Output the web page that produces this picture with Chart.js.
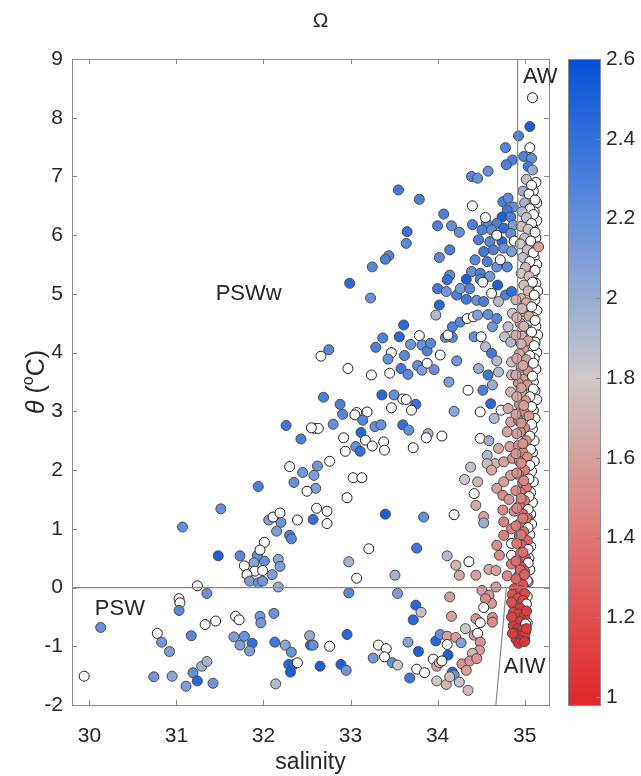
<!DOCTYPE html>
<html><head><meta charset="utf-8">
<script src="https://cdn.jsdelivr.net/npm/chart.js@4/dist/chart.umd.min.js"></script>
<style>
html,body{margin:0;padding:0;background:#fff;}
#wrap{position:relative;width:641px;height:776px;overflow:hidden;}
#main{position:absolute;left:0;top:0;}
#cbar{position:absolute;left:556px;top:0;}
</style></head><body>
<div id="wrap"><canvas id="main" width="641" height="776"></canvas><canvas id="cbar" width="85" height="776"></canvas></div>
<script>
// ---------- axis / tick data ----------
const xTicks = [30, 31, 32, 33, 34, 35];
const yTicks = [-2, -1, 0, 1, 2, 3, 4, 5, 6, 7, 8, 9];
const cbTicks = [1, 1.2, 1.4, 1.6, 1.8, 2, 2.2, 2.4, 2.6];
const cbTickLabels = ['1', '1.2', '1.4', '1.6', '1.8', '2', '2.2', '2.4', '2.6'];
const cmapValues = [1.0, 1.4, 1.8, 2.2, 2.6];
const cmapColors = ['#e2292c', '#df7775', '#cdc8c8', '#6490dc', '#0450d8'];

// ---------- water-mass boundary lines ----------
const zeroLineS = [29.8, 35.28], zeroLineT = [0, 0];
const awLineS = [34.92, 34.92], awLineT = [0, 9];
const aiwLineS = [34.79, 34.67], aiwLineT = [0, -2];

// ---------- region labels ----------
const regionNames = ['AW', 'PSWw', 'PSW', 'AIW'];
const regionS = [35.18, 31.83, 30.35, 35.0];
const regionT = [8.70, 5.0, -0.36, -1.35];

// ---------- observations (salinity, theta, Omega; null = no Omega) ----------
const warmSal = [35.09,35.06,34.93,35.06,34.78,34.86,34.79,34.99,35.08,34.58,
 34.39,34.46,35.04,35.09,33.55,33.79,34.40,34.07,34.00,34.16,
 34.25,34.40,33.65,33.64,33.44,33.40,33.25,34.14,34.02,32.99,
 34.14,34.75,34.81,34.87,34.80,34.74,34.84,34.68,34.56,34.51,
 34.62,34.76,34.87,34.47,34.60,34.74,34.84,34.53,34.64,34.76,
 34.85,34.43,34.57,34.68,34.80,34.39,34.49,34.60,34.68,34.72,
 34.55,34.88];
const warmTheta = [8.34,7.85,7.69,7.49,7.49,7.28,7.20,7.34,7.31,7.09,
 7.00,6.97,7.17,7.11,6.77,6.61,6.50,6.36,6.16,6.16,
 6.05,6.18,6.06,5.86,5.65,5.59,5.46,5.75,5.62,5.18,
 5.32,6.57,6.63,6.48,6.43,6.31,6.31,6.20,6.20,6.09,
 6.09,6.12,6.17,5.92,5.89,5.89,6.03,5.72,5.75,5.78,
 5.72,5.58,5.55,5.46,5.46,5.38,5.35,5.30,6.00,5.58,
 6.30,5.90];
const warmOmega = [null,2.5,2.3,null,2.25,2.3,2.3,2.3,2.2,2.2,
 2.25,2.2,2.35,2.0,2.35,2.3,null,2.3,2.3,2.2,
 2.2,2.3,2.4,2.25,2.25,2.3,2.25,2.3,2.25,2.45,
 2.25,2.3,2.25,2.2,2.35,2.5,2.3,2.3,2.25,2.3,
 2.2,2.4,2.1,2.3,2.25,2.45,2.2,2.35,2.3,2.2,
 2.1,2.25,2.3,2.2,2.25,2.2,2.3,2.15,null,null,
 null,null];

const midSal = [33.23,33.61,33.56,33.37,33.29,33.79,33.69,33.82,33.88,33.92,
 33.47,33.43,33.62,33.58,33.66,33.77,33.82,33.88,33.96,34.03,
 32.75,32.66,32.97,33.24,33.45,34.13,34.22,34.09,34.17,34.12,
 34.02,33.98,34.00,34.11,34.22,34.33,34.10,34.26,34.37,34.33,
 34.49,34.45,34.53,34.69,34.78,34.85,34.62,34.52,34.70,34.17,
 34.26,34.34,34.41,34.46,34.58,34.68,34.63,34.42,34.50,34.55,
 34.62,34.47,34.58,34.70,34.68,34.77,34.84,34.81,34.86,34.63,
 34.52,34.61,34.35,34.49,34.73,34.65,34.19,32.69,32.88,32.91,
 33.07,33.05,33.19,33.14,32.80,32.59,32.63,33.36,33.50,33.60,
 33.64,33.75,33.47,33.70,33.28,33.35,33.60,33.67,33.12,32.92,
 33.17,33.38,33.25,33.39,33.06,33.11,32.94,33.89,33.87,34.05,
 33.72,32.62,32.58,32.76,33.03,33.13,32.60,34.31,34.49,34.59,
 34.57,34.66,34.57,34.62,34.76,34.70,34.80,34.84,34.81,34.84,
 34.85,34.85,34.76,34.68,34.84,34.38,34.46,34.42];
const midTheta = [4.93,4.47,4.27,4.25,4.09,4.29,4.14,4.13,4.03,4.16,
 4.00,3.89,3.95,3.73,3.63,3.78,3.70,3.82,3.71,3.96,
 4.05,3.94,3.73,3.62,3.65,3.50,3.86,4.26,4.26,4.30,
 4.81,4.64,5.09,5.24,4.98,4.91,5.04,5.09,5.09,5.25,
 5.25,4.89,4.87,5.15,4.98,5.04,5.01,5.20,4.87,4.44,
 4.52,4.58,4.61,4.64,4.65,4.58,4.44,4.27,4.27,4.10,
 3.99,3.73,3.62,3.67,3.86,4.27,4.18,4.44,4.67,3.45,
 3.36,3.13,3.36,2.99,3.02,2.88,3.00,3.24,3.12,2.95,
 2.98,2.94,2.99,2.85,2.78,2.71,2.71,3.28,3.28,3.21,
 3.20,3.12,3.06,3.02,2.74,2.77,2.77,2.68,2.64,2.55,
 2.51,2.48,2.41,2.34,2.40,2.32,2.32,2.62,2.55,2.58,
 2.38,2.07,1.91,2.15,1.87,1.87,1.69,1.84,2.54,2.50,
 2.25,2.11,2.11,2.00,2.14,2.37,2.65,2.82,3.05,3.33,
 3.62,3.84,1.80,1.69,1.91,2.05,1.80,1.60];
const midOmega = [2.2,2.45,2.45,2.3,2.3,null,2.15,2.2,2.3,2.25,
 null,2.2,2.25,2.35,2.25,2.2,2.1,null,2.2,null,
 2.25,null,null,null,null,2.1,2.15,2.2,2.25,null,
 2.45,1.9,2.35,2.4,2.3,2.35,2.15,2.1,2.25,2.5,
 2.25,2.2,2.3,2.5,2.3,2.4,null,null,1.9,2.3,
 2.25,null,null,2.1,2.2,2.25,2.15,2.2,null,1.9,
 2.35,2.0,2.35,1.9,1.9,1.85,1.9,1.85,1.8,2.0,
 2.3,2.45,null,null,null,1.9,2.05,2.3,2.3,2.25,
 null,null,null,2.25,2.2,null,null,2.45,2.2,null,
 null,2.4,null,null,2.2,2.2,2.4,2.2,2.45,null,
 null,null,null,null,2.2,2.4,null,1.95,null,null,
 null,2.15,2.1,null,null,null,2.1,1.8,null,2.0,
 1.9,1.7,1.75,1.65,1.6,1.65,1.6,1.6,1.65,1.7,
 1.7,1.75,1.6,1.6,1.6,1.85,1.7,null];

const lowSal = [32.26,32.43,32.30,32.45,32.35,31.94,32.50,32.55,31.51,31.07,
 31.48,31.73,32.06,32.20,32.15,32.11,32.19,32.39,32.30,32.32,
 32.01,31.93,32.01,31.96,31.89,31.78,31.90,31.81,31.99,32.17,
 32.19,32.10,31.84,31.94,31.99,32.17,31.24,32.57,32.61,32.73,
 32.73,32.96,33.40,33.84,34.19,34.44,34.53,34.53,33.21,33.76,
 32.98,33.07,33.51,34.11,34.21,34.25,34.36,34.44,34.59,34.67,
 34.71,34.68,34.76,34.76,34.75,34.75,34.85,34.85,35.03,34.83,
 34.86,34.82,34.88,34.85,34.80,34.85];
const lowTheta = [2.76,2.53,2.06,1.96,1.79,1.72,1.64,2.72,1.34,1.03,
 0.54,0.54,1.15,1.11,0.96,1.20,1.27,1.15,0.89,0.83,
 0.45,0.55,0.77,0.64,0.42,0.37,0.28,0.22,0.29,0.48,
 0.36,0.22,0.11,0.08,0.11,0.01,0.03,1.16,1.35,1.30,
 1.09,1.53,1.25,1.20,1.24,1.40,1.21,1.10,0.66,0.67,
 0.44,0.16,0.21,0.54,0.38,0.21,0.44,0.21,0.31,0.29,
 0.55,0.72,0.89,1.12,1.32,1.57,0.75,0.55,1.20,2.40,
 2.20,1.50,1.30,1.00,0.20,0.40];
const lowOmega = [2.35,2.3,null,2.15,2.2,2.3,null,null,2.2,2.2,
 2.5,2.25,2.1,2.15,2.1,null,null,null,2.3,2.25,
 2.2,2.2,null,null,2.05,null,null,null,null,2.05,
 2.1,2.1,2.1,2.2,2.15,2.0,null,2.4,null,null,
 null,null,2.5,2.2,null,1.65,1.6,2.0,null,2.35,
 1.95,null,1.95,1.9,1.7,1.65,null,1.6,1.65,1.6,
 1.5,1.5,1.45,1.45,1.5,1.5,null,null,null,1.6,
 1.55,1.55,1.5,1.45,1.5,1.4];

const coldSal = [31.35,31.03,31.04,31.03,30.13,31.33,31.45,31.68,31.72,31.96,
 31.97,32.12,31.17,30.78,30.83,30.92,31.66,31.73,31.78,31.87,
 31.84,32.13,32.25,32.32,32.53,32.54,29.94,30.74,30.95,31.11,
 31.19,31.29,31.35,31.24,31.42,32.29,32.35,32.31,32.39,32.14,
 32.98,33.54,34.14,34.51,34.59,34.62,34.55,34.67,33.75,33.81,
 33.72,34.16,34.53,34.63,34.63,34.44,34.49,34.32,34.42,34.46,
 34.49,32.96,32.57,32.76,32.65,32.89,32.95,33.32,33.41,33.26,
 33.39,33.48,33.54,33.66,33.78,33.76,33.68,33.98,34.03,34.11,
 34.11,34.12,34.21,34.27,34.48,34.40,33.95,33.99,34.02,34.05,
 34.17,34.19,34.28,34.37,34.45,34.33,34.25,34.35,34.10,33.99,
 34.14,33.85];
const coldTheta = [-0.10,-0.19,-0.26,-0.39,-0.68,-0.63,-0.57,-0.49,-0.55,-0.49,
 -0.60,-0.44,-0.82,-0.78,-0.93,-1.09,-0.84,-0.98,-0.83,-0.95,
 -1.08,-0.93,-0.98,-1.10,-0.82,-0.98,-1.51,-1.52,-1.51,-1.68,
 -1.45,-1.34,-1.26,-1.59,-1.63,-1.31,-1.31,-1.44,-1.28,-1.64,
 -0.09,-0.10,-0.16,-0.05,-0.13,-0.27,-0.19,0.01,-0.30,-0.42,
 -0.55,-0.49,-0.34,-0.51,-0.59,-0.53,-0.60,-0.70,-0.81,-0.78,
 -0.93,-0.80,-0.98,-1.00,-1.34,-1.31,-1.41,-0.98,-1.04,-1.20,
 -1.18,-1.28,-1.32,-0.93,-1.09,-1.39,-1.54,-0.91,-0.80,-0.83,
 -0.97,-1.15,-0.85,-0.94,-1.07,-1.12,-1.22,-1.34,-1.28,-1.25,
 -1.44,-1.49,-1.30,-1.25,-1.21,-1.41,-1.61,-1.75,-1.65,-1.59,
 -1.52,-1.45];
const coldOmega = [2.2,null,null,2.25,2.2,null,null,null,null,2.15,
 2.15,2.2,2.25,null,2.15,2.1,2.1,2.1,2.2,2.4,
 2.1,2.35,2.05,2.2,2.0,2.4,null,2.15,2.05,2.1,
 2.2,1.95,1.95,2.45,2.15,2.45,2.45,2.5,null,1.9,
 2.25,2.1,1.6,1.6,1.55,1.55,1.5,1.6,2.45,1.85,
 2.45,1.6,null,1.5,1.5,1.55,null,1.8,1.6,null,
 1.55,2.45,2.2,null,2.5,2.5,2.15,null,null,2.15,
 null,2.2,1.8,2.05,2.5,null,2.35,2.45,2.2,1.6,
 null,2.5,1.6,2.1,1.6,1.7,null,1.6,1.7,null,
 2.45,2.2,1.55,1.55,1.55,1.6,1.85,1.75,1.7,1.8,
 1.75,null];

const awSal = [35.02,35.08,34.98,35.05,35.12,35.00,35.06,34.97,35.10,35.02,
 35.08,34.96,35.04,35.12,35.00,35.07,34.95,35.03,35.10,34.98,
 35.06,35.01,35.12,34.96,35.05,35.09,34.99,35.04,35.11,34.96,
 35.02,35.08,34.98,35.05,35.12,34.95,35.01,35.08,34.97,35.04,
 35.11,34.99,34.94,35.06,35.02,35.10,34.96,35.04,35.09,34.98,
 34.93,35.03,35.10,34.97,35.06,35.01,34.94,35.08,34.99,35.05,
 34.93,35.08,35.00,34.95,35.06,35.02,34.93,35.07,34.98,35.03,
 34.94,35.06,35.00,34.93,35.05,34.98,35.02,34.95,35.05,35.00,
 34.94,35.04,34.98,35.02,34.95,35.04,34.99,34.94,35.03,34.97,
 35.04,34.95,35.01,35.04,34.96,35.00,34.93,35.03,34.98,35.16];
const awTheta = [6.95,6.85,6.75,6.70,6.60,6.55,6.45,6.40,6.35,6.30,
 6.20,6.15,6.10,6.05,5.95,5.90,5.85,5.75,5.70,5.62,
 5.55,5.45,5.40,5.35,5.30,5.20,5.15,5.05,4.98,4.92,
 4.85,4.78,4.70,4.62,4.55,4.50,4.42,4.35,4.28,4.20,
 4.12,4.05,3.98,3.95,3.88,3.82,3.75,3.68,3.60,3.55,
 3.48,3.45,3.38,3.32,3.25,3.18,3.12,3.08,3.00,2.92,
 2.85,2.78,2.72,2.65,2.58,2.50,2.42,2.35,2.30,2.22,
 2.15,2.08,2.00,1.92,1.85,1.78,1.70,1.62,1.55,1.48,
 1.40,1.33,1.25,1.18,1.10,1.02,0.95,0.88,0.80,0.72,
 0.65,0.58,0.50,0.42,0.35,0.28,0.20,0.12,0.05,5.80];
const awOmega = [1.85,null,2.0,null,null,1.95,null,1.9,null,1.85,
 null,1.75,1.8,null,1.85,null,1.8,1.75,null,1.85,
 null,1.7,null,1.8,1.75,null,1.75,1.7,null,1.7,
 1.65,null,1.7,1.65,null,1.65,1.6,null,1.7,1.6,
 null,1.6,1.65,null,1.6,null,1.6,1.55,null,1.6,
 1.55,1.55,null,1.6,null,1.55,1.55,null,1.5,1.55,
 1.5,null,1.5,1.55,null,1.5,1.5,null,1.45,1.5,
 1.5,null,1.45,1.45,null,1.45,1.4,1.45,null,1.4,
 1.4,null,1.35,1.4,1.35,null,1.35,1.3,1.3,1.3,
 null,1.3,1.25,null,1.25,1.25,1.25,null,1.2,1.6];

// pink core of the AW column (filled Omega values)
const coreSal = [34.90,34.97,34.91,34.99,34.90,34.96,34.91,34.98,34.90,34.96,
 34.91,34.99,34.90,34.96,34.91,34.98,34.90,34.96,34.91,34.99,
 34.90,34.96,34.91,34.98,34.90,34.96,34.91,34.98,34.90,34.95,
 34.90,35.00];
const coreTheta = [4.90,4.75,4.60,4.45,4.30,4.15,3.90,3.78,3.62,3.40,
 3.25,3.10,2.95,2.80,2.62,2.45,2.28,2.12,1.95,1.82,
 1.65,1.52,1.35,1.18,1.05,0.90,0.75,0.60,0.45,0.30,
 0.15,0.22];
const coreOmega = [1.70,1.72,1.68,1.70,1.66,1.68,1.65,1.62,1.63,1.60,
 1.62,1.58,1.60,1.56,1.58,1.52,1.55,1.50,1.52,1.48,
 1.50,1.45,1.47,1.42,1.44,1.38,1.40,1.35,1.35,1.30,
 1.30,1.28];

const aiwSal = [34.88,34.95,35.00,34.86,34.92,34.98,35.02,34.88,34.95,34.87,
 34.93,35.00,34.88,34.95,35.01,34.87,34.92,34.98,34.89,34.95,
 35.00,34.90,34.96,34.85,35.02,34.85,35.02,34.86,34.93,35.00];
const aiwTheta = [-0.02,-0.05,-0.10,-0.12,-0.18,-0.22,-0.28,-0.30,-0.35,-0.42,
 -0.45,-0.48,-0.55,-0.58,-0.62,-0.65,-0.70,-0.72,-0.78,-0.82,
 -0.80,-0.88,-0.90,-0.25,-0.40,-0.50,-0.70,-0.78,-0.95,-0.92];
const aiwOmega = [1.2,1.2,1.15,1.2,1.15,1.15,null,1.15,1.1,1.15,
 1.1,1.1,1.1,1.1,null,1.1,1.05,1.1,1.05,1.05,
 1.08,1.05,1.0,1.18,1.1,1.12,1.08,1.08,1.02,1.05];

const edgeSal = [35.13,35.10,35.14,35.11,35.14,35.10,35.13,35.15,35.11,35.14,
 35.10,35.13,35.15,35.12,35.14,35.10,35.13,35.15,35.12,35.14,
 35.11,35.13,35.10,35.12,35.14,35.10,35.12,35.09,35.11,35.09,
 35.11,35.08,35.10,35.07,35.09,35.07,35.08,35.06,35.07,35.05,
 35.06,35.04,35.03,35.02,35.03,35.01,35.00];
const edgeTheta = [6.90,6.75,6.55,6.40,6.25,6.10,5.95,5.80,5.62,5.50,
 5.35,5.18,5.05,4.90,4.72,4.60,4.45,4.30,4.18,4.00,
 3.90,3.72,3.50,3.35,3.20,3.02,2.88,2.70,2.50,2.30,
 2.15,1.98,1.80,1.62,1.45,1.25,1.08,0.90,0.70,0.50,
 0.30,0.10,-0.15,-0.40,-0.60,-0.75,-0.88];

// ---------- helpers ----------
const FONT = '"Liberation Sans", Arial, Helvetica, sans-serif';
const TXT = '#262626';
function hexRgb(h){return [parseInt(h.slice(1,3),16),parseInt(h.slice(3,5),16),parseInt(h.slice(5,7),16)];}
function omegaColor(v){
  if (v === null) return '#ffffff';
  if (v <= cmapValues[0]) return cmapColors[0];
  for (let i = 1; i < cmapValues.length; i++) {
    if (v <= cmapValues[i]) {
      const f = (v - cmapValues[i-1]) / (cmapValues[i] - cmapValues[i-1]);
      const a = hexRgb(cmapColors[i-1]), b = hexRgb(cmapColors[i]);
      return 'rgb(' + a.map((c,k)=>Math.round(c + (b[k]-c)*f)).join(',') + ')';
    }
  }
  return cmapColors[cmapColors.length-1];
}

const groups = [
  {s: edgeSal, t: edgeTheta, o: edgeSal.map(()=>null)},
  {s: warmSal, t: warmTheta, o: warmOmega},
  {s: midSal, t: midTheta, o: midOmega},
  {s: lowSal, t: lowTheta, o: lowOmega},
  {s: coldSal, t: coldTheta, o: coldOmega},
  {s: awSal, t: awTheta, o: awOmega},
  {s: coreSal, t: coreTheta, o: coreOmega},
  {s: aiwSal, t: aiwTheta, o: aiwOmega}
];
const pts = [];
groups.forEach(g => g.s.forEach((s,i) => pts.push({x: s, y: g.t[i], o: g.o[i]})));

function lineData(sArr, tArr){ return sArr.map((s,i)=>({x: s, y: tArr[i]})); }
const lineStyle = {showLine: true, pointRadius: 0, borderColor: '#8a8a8a', borderWidth: 1.2, fill: false, order: 0};

const decor = {
  id: 'decor',
  afterDraw(chart){
    const {ctx, chartArea: a, scales: {x, y}} = chart;
    ctx.save();
    ctx.strokeStyle = '#8a8a8a'; ctx.lineWidth = 1;
    ctx.strokeRect(Math.round(a.left)+0.5, Math.round(a.top)+0.5, Math.round(a.right-a.left), Math.round(a.bottom-a.top));
    ctx.beginPath();
    xTicks.forEach(v => { const p = Math.round(x.getPixelForValue(v))+0.5;
      ctx.moveTo(p, a.bottom); ctx.lineTo(p, a.bottom-5); ctx.moveTo(p, a.top); ctx.lineTo(p, a.top+5); });
    yTicks.forEach(v => { const p = Math.round(y.getPixelForValue(v))+0.5;
      ctx.moveTo(a.left, p); ctx.lineTo(a.left+5, p); ctx.moveTo(a.right, p); ctx.lineTo(a.right-5, p); });
    ctx.stroke();
    ctx.fillStyle = TXT; ctx.textAlign = 'center'; ctx.textBaseline = 'middle';
    ctx.font = '22px ' + FONT;
    regionNames.forEach((n,i) => ctx.fillText(n, x.getPixelForValue(regionS[i]), y.getPixelForValue(regionT[i])));
    // title
    ctx.font = '21px ' + FONT;
    ctx.fillText('Ω', chart.width/2, 21);
    // x title
    ctx.font = '23px ' + FONT;
    ctx.fillText('salinity', (a.left+a.right)/2, 763);
    // y title: θ (°C) with italic theta and superscript o
    ctx.translate(37, (a.top+a.bottom)/2);
    ctx.rotate(-Math.PI/2);
    const f1 = 'italic 25px ' + FONT, f2 = '25px ' + FONT, f3 = '16px ' + FONT;
    ctx.font = f1; const w1 = ctx.measureText('θ ').width;
    ctx.font = f2; const w2 = ctx.measureText('(').width;
    ctx.font = f3; const w3 = ctx.measureText('o').width;
    ctx.font = f2; const w4 = ctx.measureText('C)').width;
    let cx = -(w1+w2+w3+w4)/2;
    ctx.textAlign = 'left';
    ctx.font = f1; ctx.fillText('θ ', cx, 0); cx += w1;
    ctx.font = f2; ctx.fillText('(', cx, 0); cx += w2;
    ctx.font = f3; ctx.fillText('o', cx, -8); cx += w3;
    ctx.font = f2; ctx.fillText('C)', cx, 0);
    ctx.restore();
  }
};

new Chart(document.getElementById('main'), {
  type: 'scatter',
  data: {
    datasets: [
      Object.assign({data: lineData(zeroLineS, zeroLineT)}, lineStyle),
      Object.assign({data: lineData(awLineS, awLineT)}, lineStyle),
      Object.assign({data: lineData(aiwLineS, aiwLineT)}, lineStyle),
      {
        data: pts, order: 1,
        pointRadius: 5, pointHoverRadius: 5,
        pointBackgroundColor: pts.map(p => omegaColor(p.o)),
        pointBorderColor: pts.map(p => p.o === null ? '#1e1e1e' : '#484848'),
        pointBorderWidth: 1
      }
    ]
  },
  options: {
    responsive: false, animation: false, devicePixelRatio: 1,
    layout: {padding: {left: 0, right: 92, top: 59, bottom: 0}},
    plugins: {legend: {display: false}, tooltip: {enabled: false}, title: {display: false}},
    scales: {
      x: {type: 'linear', min: 29.8, max: 35.28,
        afterBuildTicks: s => { s.ticks = xTicks.map(v => ({value: v})); },
        afterFit: s => { s.height = 71; },
        grid: {display: false, drawTicks: false}, border: {display: false},
        ticks: {padding: 19, autoSkip: false, maxRotation: 0, color: TXT, font: {size: 21, family: FONT}, callback: v => String(v)}},
      y: {type: 'linear', min: -2, max: 9,
        afterBuildTicks: s => { s.ticks = yTicks.map(v => ({value: v})); },
        afterFit: s => { s.width = 72; },
        grid: {display: false, drawTicks: false}, border: {display: false},
        ticks: {padding: 9, autoSkip: false, color: TXT, font: {size: 21, family: FONT}, callback: v => String(v)}}
    }
  },
  plugins: [decor]
});

// ---------- colorbar ----------
const cbPlugin = {
  id: 'cbfill',
  beforeDatasetsDraw(chart){
    const {ctx, chartArea: a, scales: {y}} = chart;
    const yb = y.getPixelForValue(y.min), yt = y.getPixelForValue(y.max);
    const g = ctx.createLinearGradient(0, yb, 0, yt);
    g.addColorStop(0, omegaColor(y.min));
    cmapValues.forEach(v => { const off = (y.getPixelForValue(v) - yb) / (yt - yb); if (off >= 0 && off <= 1) g.addColorStop(off, omegaColor(v)); });
    g.addColorStop(1, omegaColor(y.max));
    ctx.save();
    ctx.fillStyle = g;
    ctx.fillRect(a.left, a.top, a.right - a.left, a.bottom - a.top);
    ctx.strokeStyle = '#8a8a8a'; ctx.lineWidth = 1;
    ctx.strokeRect(Math.round(a.left)+0.5, Math.round(a.top)+0.5, Math.round(a.right-a.left), Math.round(a.bottom-a.top));
    ctx.beginPath();
    cbTicks.forEach(v => { const p = Math.round(y.getPixelForValue(v))+0.5; ctx.moveTo(a.right, p); ctx.lineTo(a.right-4, p); });
    ctx.stroke();
    ctx.restore();
  }
};
new Chart(document.getElementById('cbar'), {
  type: 'scatter',
  data: {datasets: []},
  options: {
    responsive: false, animation: false, devicePixelRatio: 1,
    layout: {padding: {left: 12, right: 0, top: 59, bottom: 71}},
    plugins: {legend: {display: false}, tooltip: {enabled: false}},
    scales: {
      x: {display: false, min: 0, max: 1},
      y: {position: 'right', min: 0.98, max: 2.6,
        afterBuildTicks: s => { s.ticks = cbTicks.map(v => ({value: v})); },
        afterFit: s => { s.width = 41; },
        grid: {display: false, drawTicks: false}, border: {display: false},
        ticks: {padding: 6, autoSkip: false, color: TXT, font: {size: 21, family: FONT},
          callback: (v, i) => cbTickLabels[i]}}
    }
  },
  plugins: [cbPlugin]
});
</script>
</body></html>
